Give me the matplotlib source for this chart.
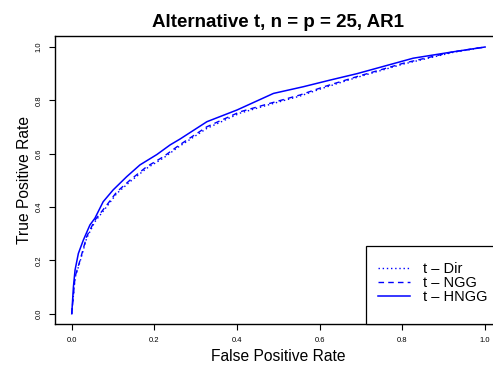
import numpy as np
import matplotlib
matplotlib.use('Agg')
import matplotlib.pyplot as plt
from matplotlib.patches import Rectangle

# ROC curves
fpr_hngg = [0.0, 0.004, 0.008, 0.016, 0.028, 0.044, 0.056, 0.076, 0.10, 0.133, 0.165, 0.206,
            0.238, 0.262, 0.327, 0.40, 0.488, 0.56, 0.625, 0.69, 0.826, 0.923, 1.0]
tpr_hngg = [0.0, 0.10, 0.164, 0.226, 0.276, 0.333, 0.358, 0.42, 0.464, 0.514, 0.558, 0.597,
            0.633, 0.655, 0.72, 0.764, 0.826, 0.851, 0.876, 0.90, 0.958, 0.982, 1.0]

fpr_ngg = [0.0, 0.008, 0.02, 0.036, 0.056, 0.085, 0.109, 0.141, 0.181, 0.222, 0.258, 0.327,
           0.407, 0.48, 0.552, 0.61, 0.69, 0.802, 0.923, 1.0]
tpr_ngg = [0.0, 0.139, 0.20, 0.289, 0.351, 0.408, 0.457, 0.501, 0.551, 0.589, 0.63, 0.701,
           0.757, 0.789, 0.82, 0.851, 0.889, 0.939, 0.982, 1.0]

fpr_dir = [0.0, 0.008, 0.02, 0.036, 0.056, 0.085, 0.109, 0.141, 0.181, 0.222, 0.258, 0.327,
           0.407, 0.48, 0.552, 0.61, 0.69, 0.802, 0.923, 1.0]
tpr_dir = [0.0, 0.135, 0.195, 0.283, 0.345, 0.402, 0.451, 0.495, 0.545, 0.584, 0.625, 0.695,
           0.752, 0.785, 0.816, 0.847, 0.886, 0.936, 0.980, 1.0]

ticks = [0.0, 0.2, 0.4, 0.6, 0.8, 1.0]
tick_labels = ['0.0', '0.2', '0.4', '0.6', '0.8', '1.0']

plt.rcParams['font.family'] = ['Liberation Sans', 'DejaVu Sans']

W, H = 493, 367
fig = plt.figure(figsize=(W / 100, H / 100), dpi=100)
ax = fig.add_axes([0.112, 0.116, 0.9055, 0.785])

ax.plot(fpr_dir, tpr_dir, color='blue', lw=1.0, linestyle=(0, (1, 2)), label='t \u2013 Dir')
ax.plot(fpr_ngg, tpr_ngg, color='blue', lw=1.0, linestyle=(0, (4, 3)), label='t \u2013 NGG')
ax.plot(fpr_hngg, tpr_hngg, color='blue', lw=1.1, linestyle='-', label='t \u2013 HNGG')

ax.set_xlim(-0.04, 1.04)
ax.set_ylim(-0.04, 1.04)
ax.set_xticks(ticks)
ax.set_xticklabels(tick_labels, fontsize=5.5)
ax.set_yticks(ticks)
ax.set_yticklabels(tick_labels, fontsize=5.5, rotation=90, va='center')
ax.tick_params(direction='out', length=4, width=0.8, pad=5)

for s in ax.spines.values():
    s.set_linewidth(1.0)
    s.set_color('black')

ax.set_xlabel('False Positive Rate', fontsize=11.25, labelpad=4)
ax.set_ylabel('True Positive Rate', fontsize=11.25, labelpad=3)
ax.set_title('Alternative t, n = p = 25, AR1', fontsize=13.5, fontweight='bold', pad=7)

# legend box runs off the right edge like the R original
box = Rectangle((366 / W, (H - 324) / H), 0.3, (324 - 246) / H, transform=fig.transFigure,
                facecolor='white', edgecolor='black', lw=0.9, clip_on=False, zorder=4)
ax.add_patch(box)

leg = ax.legend(loc='upper left', bbox_to_anchor=(378 / W, (H - 262) / H),
                bbox_transform=fig.transFigure, fontsize=10.5, frameon=False,
                handlelength=2.2, handletextpad=0.9, borderpad=0, labelspacing=0.0,
                borderaxespad=0)
leg.set_zorder(5)

fig.savefig('out.png', dpi=100)
